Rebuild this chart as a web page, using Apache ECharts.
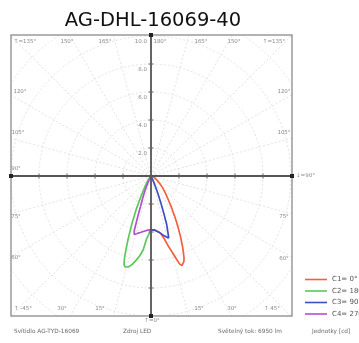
<!DOCTYPE html>
<html>
<head>
<meta charset="utf-8">
<script src="https://cdn.jsdelivr.net/npm/echarts@6/dist/echarts.min.js"></script>
<style>html,body{margin:0;padding:0;background:#fff}#c{width:359px;height:343px}</style>
</head>
<body>
<div id="c"></div>
<script>
// gamma angles (deg from nadir) and luminous intensity per C-plane (axis units)
const gamma = [0,2,4,6,8,10,12,14,16,17,18,19,20,21,22,24,26,28,30,33,36,40,45,50,55,60,65,70,80,90,180];
const c0   = [3.85,3.85,3.86,3.95,4.05,4.22,4.6,5.2,5.8,6.2,6.6,6.77,6.72,6.55,6.3,5.55,4.8,4.1,3.45,2.7,2.1,1.6,1.15,0.8,0.55,0.38,0.25,0.15,0.05,0,0];
const c180 = [3.85,3.98,4.5,5.3,5.75,6.1,6.45,6.7,6.75,6.6,6.1,5.4,4.75,4.1,3.55,2.55,1.65,1.1,0.8,0.5,0.25,0.1,0,0,0,0,0,0,0,0,0];
const c90  = [3.85,3.86,3.88,3.95,4.05,4.18,4.35,4.48,4.6,4.55,3.6,2.75,2.1,1.55,1.1,0.5,0.2,0.08,0,0,0,0,0,0,0,0,0,0,0,0,0];
const c270 = [3.85,3.86,3.88,3.92,4.0,4.08,4.15,4.25,4.35,4.1,3.1,2.3,1.85,1.5,1.2,0.7,0.4,0.22,0.12,0.05,0,0,0,0,0,0,0,0,0,0,0];
const seriesNames = ['C1= 0°','C2= 180°','C3= 90°','C4= 270°'];
const radialTickLabels = ['2.0','4.0','6.0','8.0','10.0'];
const title = 'AG-DHL-16069-40';
const footer = ['Svítidlo AG-TYD-16069','Zdroj LED','Světelný tok: 6950 lm','Jednotky [cd]'];

// layout
const CX = 151, CY = 176, PX = 14; // px per unit
const BL = 11, BT = 35, BR = 292, BB = 316;
const colors = ['#f2603c','#5cc85a','#3f4fc2','#b24fd0'];

const chart = echarts.init(document.getElementById('c'));

const right = v => gamma.map((g,i)=>[v[i], g]);
const left  = v => gamma.map((g,i)=>[v[i], 360-g]);

const gStyle = {color:'#e2e2e2', type:[2,2], width:1};
const el = [];
// masks outside box
el.push({type:'rect', z:10, shape:{x:0,y:0,width:359,height:BT-0.5}, style:{fill:'#fff'}});
el.push({type:'rect', z:10, shape:{x:0,y:0,width:BL-0.5,height:343}, style:{fill:'#fff'}});
el.push({type:'rect', z:10, shape:{x:BR+0.5,y:0,width:70,height:343}, style:{fill:'#fff'}});
el.push({type:'rect', z:10, shape:{x:0,y:BB+0.5,width:359,height:30}, style:{fill:'#fff'}});
// box
el.push({type:'rect', z:20, shape:{x:BL,y:BT,width:BR-BL,height:BB-BT}, style:{fill:'none', stroke:'#9a9a9a', lineWidth:1.5}});
// axes
el.push({type:'line', z:21, shape:{x1:CX,y1:BT-2,x2:CX,y2:BB+2}, style:{stroke:'#555', lineWidth:1.8}});
el.push({type:'line', z:21, shape:{x1:BL,y1:CY,x2:BR,y2:CY}, style:{stroke:'#555', lineWidth:1.8}});
for (let k=1;k<=4;k++){
  [CX-28*k, CX+28*k].forEach(x=>el.push({type:'line', z:21, shape:{x1:x,y1:CY-2.5,x2:x,y2:CY+2.5}, style:{stroke:'#666', lineWidth:1}}));
  [CY-28*k, CY+28*k].forEach(y=>el.push({type:'line', z:21, shape:{x1:CX-2.5,y1:y,x2:CX+2.5,y2:y}, style:{stroke:'#666', lineWidth:1}}));
}
[[CX,BT],[CX,BB],[BL,CY],[BR,CY]].forEach(p=>el.push({type:'rect', z:22, shape:{x:p[0]-2,y:p[1]-2,width:4,height:4}, style:{fill:'#222'}}));
const txt = (t,x,y,align,size,fill)=>el.push({type:'text', z:30, x:x, y:y, style:{text:t, fill:fill||'#8a8a8a', fontSize:size||5.5, fontFamily:'DejaVu Sans', align:align||'center', verticalAlign:'middle'}});
// radial labels
radialTickLabels.forEach((t,i)=>txt(t, CX-4, CY-28*(i+1)+5.5, 'right', 5.5));
// angle labels
txt('↑=135°',25,42); txt('150°',67,42); txt('165°',105,42);
txt('180°',160,42); txt('165°',201,42); txt('150°',234,42); txt('↑=135°',274,42);
txt('120°',20,92); txt('105°',18,133); txt('90°',16,169); txt('75°',16,217); txt('60°',16,258);
txt('120°',284,92); txt('105°',284,133); txt('75°',284,217); txt('60°',284,259);
txt('↓=90°',296,176,'left');
txt('↑ -45°',23,309); txt('30°',62,309); txt('15°',100,309);
txt('15°',199,309); txt('30°',232,309); txt('↑ 45°',272,309);
txt('↑=0°',152,321);
// title
el.push({type:'text', z:30, x:153, y:21, style:{text:title, fill:'#111', fontSize:19.5, fontFamily:'DejaVu Sans', align:'center', verticalAlign:'middle'}});
// footer
txt(footer[0],14,331,'left',5.8,'#6a6a6a');
txt(footer[1],123,331,'left',5.8,'#6a6a6a');
txt(footer[2],218,331,'left',5.8,'#6a6a6a');
txt(footer[3],312,331,'left',5.8,'#6a6a6a');

chart.setOption({
  animation:false,
  polar:{center:[CX,CY], radius:198},
  radiusAxis:{type:'value', min:0, max:198/PX, interval:2, axisLine:{show:false}, axisTick:{show:false}, axisLabel:{show:false}, splitLine:{show:true, lineStyle:gStyle}},
  angleAxis:{type:'value', min:0, max:360, interval:15, startAngle:270, clockwise:false, axisLine:{show:false}, axisTick:{show:false}, axisLabel:{show:false}, splitLine:{show:true, lineStyle:gStyle}},
  legend:{orient:'vertical', left:300, top:270, z:40, icon:'rect', itemWidth:22, itemHeight:1.6, itemGap:2.5,
    textStyle:{fontSize:7, lineHeight:9, color:'#555', fontFamily:'DejaVu Sans'}, data:seriesNames},
  series:[
    {name:seriesNames[0], type:'line', coordinateSystem:'polar', data:right(c0), showSymbol:false, z:5, lineStyle:{color:colors[0], width:1.7}, itemStyle:{color:colors[0]}},
    {name:seriesNames[1], type:'line', coordinateSystem:'polar', data:left(c180), showSymbol:false, z:5, lineStyle:{color:colors[1], width:1.7}, itemStyle:{color:colors[1]}},
    {name:seriesNames[2], type:'line', coordinateSystem:'polar', data:right(c90), showSymbol:false, z:5, lineStyle:{color:colors[2], width:1.7}, itemStyle:{color:colors[2]}},
    {name:seriesNames[3], type:'line', coordinateSystem:'polar', data:left(c270), showSymbol:false, z:5, lineStyle:{color:colors[3], width:1.7}, itemStyle:{color:colors[3]}}
  ],
  graphic:{elements:el}
});
</script>
</body>
</html>
